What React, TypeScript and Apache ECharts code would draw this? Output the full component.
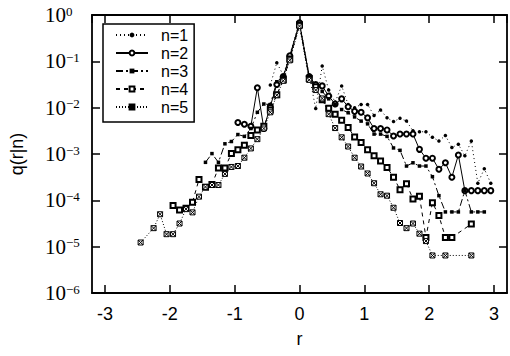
import React, { useEffect, useRef } from 'react';
import * as echarts from 'echarts';

// n=1
const r1 = [-0.45, -0.35, -0.25, -0.15, 0, 0.15, 0.25, 0.35, 0.45, 0.55, 0.65, 0.75, 0.85, 0.95, 1.05, 1.15, 1.25, 1.35, 1.45, 1.55, 1.65, 1.75, 1.85, 1.95, 2.05, 2.15, 2.25, 2.35, 2.45, 2.55, 2.65, 2.75, 2.85, 2.95];
const q1 = [0.0309, 0.0933, 0.0501, 0.138, 0.724, 0.0501, 0.00955, 0.0794, 0.024, 0.0132, 0.0295, 0.0117, 0.01, 0.0117, 0.0117, 0.00676, 0.00891, 0.00603, 0.00501, 0.00589, 0.00513, 0.00316, 0.00302, 0.00302, 0.00229, 0.00191, 0.00251, 0.00138, 0.00162, 0.000912, 0.00191, 0.000234, 0.000479, 0.000234];

// n=2
const r2 = [-0.95, -0.85, -0.75, -0.65, -0.55, -0.45, -0.35, -0.25, -0.15, 0, 0.15, 0.25, 0.35, 0.45, 0.55, 0.65, 0.75, 0.85, 0.95, 1.05, 1.15, 1.25, 1.35, 1.45, 1.55, 1.65, 1.75, 1.85, 1.95, 2.05, 2.15, 2.25, 2.35, 2.45, 2.55, 2.65, 2.75, 2.85, 2.95];
const q2 = [0.00479, 0.00437, 0.00398, 0.0269, 0.00355, 0.0107, 0.0316, 0.0468, 0.132, 0.676, 0.0468, 0.0316, 0.0295, 0.0178, 0.012, 0.0155, 0.0105, 0.00832, 0.00794, 0.00603, 0.00355, 0.00355, 0.00331, 0.00245, 0.00269, 0.00269, 0.00269, 0.00126, 0.000813, 0.000813, 0.000468, 0.000646, 0.000316, 0.000955, 0.000162, 0.000162, 0.000162, 0.000162, 0.000162];

// n=3
const r3 = [-1.45, -1.35, -1.25, -1.15, -1.05, -0.95, -0.85, -0.75, -0.65, -0.55, -0.45, -0.35, -0.25, -0.15, 0, 0.15, 0.25, 0.35, 0.45, 0.55, 0.65, 0.75, 0.85, 0.95, 1.05, 1.15, 1.25, 1.35, 1.45, 1.55, 1.65, 1.75, 1.85, 1.95, 2.05, 2.15, 2.25, 2.35, 2.45, 2.55, 2.65, 2.75, 2.85];
const q3 = [0.000661, 0.00102, 0.000661, 0.00166, 0.00186, 0.00263, 0.0024, 0.00355, 0.00794, 0.012, 0.0117, 0.0363, 0.0479, 0.12, 0.646, 0.0447, 0.0263, 0.0224, 0.0155, 0.0117, 0.00912, 0.00776, 0.00631, 0.00513, 0.00447, 0.00269, 0.00269, 0.0024, 0.00135, 0.0012, 0.00055, 0.000646, 0.00055, 0.00055, 0.000324, 0.000126, 0.0000562, 0.0000562, 0.0000562, 0.000162, 0.0000562, 0.0000562, 0.0000562];

// n=4
const r4 = [-1.95, -1.85, -1.75, -1.65, -1.55, -1.45, -1.35, -1.25, -1.15, -1.05, -0.95, -0.85, -0.75, -0.65, -0.55, -0.45, -0.35, -0.25, -0.15, 0, 0.15, 0.25, 0.35, 0.45, 0.55, 0.65, 0.75, 0.85, 0.95, 1.05, 1.15, 1.25, 1.35, 1.45, 1.55, 1.65, 1.75, 1.85, 1.95, 2.05, 2.15, 2.25, 2.35, 2.65];
const q4 = [0.0000776, 0.0000617, 0.0000676, 0.0000912, 0.000282, 0.000191, 0.000219, 0.000501, 0.000501, 0.00102, 0.00123, 0.00155, 0.00251, 0.00331, 0.00398, 0.00891, 0.0191, 0.0398, 0.112, 0.617, 0.0427, 0.0282, 0.0148, 0.00977, 0.00724, 0.00537, 0.00372, 0.00234, 0.00178, 0.00123, 0.000912, 0.000708, 0.000513, 0.000316, 0.00017, 0.000229, 0.000107, 0.000123, 0.0000158, 0.0000891, 0.0000468, 0.0000158, 0.0000158, 0.0000309];

// n=5
const r5 = [-2.45, -2.25, -2.15, -2.05, -1.95, -1.85, -1.75, -1.65, -1.55, -1.45, -1.35, -1.25, -1.15, -1.05, -0.95, -0.85, -0.75, -0.65, -0.55, -0.45, -0.35, -0.25, -0.15, 0, 0.15, 0.25, 0.35, 0.45, 0.55, 0.65, 0.75, 0.85, 0.95, 1.05, 1.15, 1.25, 1.35, 1.45, 1.55, 1.65, 1.75, 1.85, 1.95, 2.05, 2.25, 2.65];
const q5 = [0.0000123, 0.0000251, 0.0000501, 0.0000186, 0.0000186, 0.0000316, 0.0000646, 0.000055, 0.00012, 0.000195, 0.000214, 0.000214, 0.000372, 0.000525, 0.00055, 0.000832, 0.00132, 0.00209, 0.00355, 0.00794, 0.0186, 0.038, 0.105, 0.575, 0.0398, 0.024, 0.0158, 0.00724, 0.00363, 0.00229, 0.00145, 0.000832, 0.000537, 0.00038, 0.000234, 0.000135, 0.000126, 0.0000692, 0.0000324, 0.0000251, 0.0000316, 0.0000191, 0.0000132, 0.00000646, 0.00000646, 0.00000646];

const seriesNames = ['n=1', 'n=2', 'n=3', 'n=4', 'n=5'];

const BOXED_X = 'path://M0,0H10V10H0ZM0,0L10,10M10,0L0,10';

export default function App() {
  const ref = useRef<HTMLDivElement>(null);
  useEffect(() => {
    document.body.style.margin = '0';
    const chart = echarts.init(ref.current!, null, { renderer: 'svg' });
    const pairs = (r: number[], q: number[]) => r.map((x, i) => [x, q[i]]);
    const black = '#000';
    const axisCommon = {
      axisLine: { show: true, onZero: false, lineStyle: { color: black, width: 1.8 } },
      axisTick: { show: true, inside: true, length: 8, lineStyle: { color: black, width: 1.5 } },
      splitLine: { show: false },
    };
    const supFormatter = (v: number) => {
      const e = Math.round(Math.log10(v));
      const s = e === 0 ? '0' : '\u2212' + String(-e);
      return '{b|10}{s|' + s + '}';
    };
    chart.setOption({
      animation: false,
      backgroundColor: '#fff',
      grid: { left: 91, right: 3, top: 15, bottom: 63, containLabel: false },
      legend: {
        data: seriesNames,
        orient: 'vertical',
        left: 103,
        top: 24,
        itemWidth: 32,
        itemHeight: 6,
        itemGap: 2,
        padding: [3, 6, 7, 12],
        borderColor: black,
        borderWidth: 1.5,
        backgroundColor: '#fff',
        textStyle: { fontSize: 16, fontFamily: 'Liberation Sans', color: black, lineHeight: 16, padding: [0, 0, 0, 8] },
      },
      xAxis: [
        {
          type: 'value', min: -3.2, max: 3.2, splitNumber: 6, position: 'bottom',
          name: 'r', nameLocation: 'middle', nameGap: 37,
          nameTextStyle: { fontSize: 18, fontFamily: 'Liberation Sans', color: black },
          axisLabel: { show: true, showMinLabel: false, showMaxLabel: false, margin: 12, fontSize: 18, fontFamily: 'Liberation Sans', color: black },
          ...axisCommon,
        },
        {
          type: 'value', min: -3.2, max: 3.2, splitNumber: 6, position: 'top',
          axisLabel: { show: false },
          ...axisCommon,
        },
      ],
      yAxis: [
        {
          type: 'log', logBase: 10, min: 1e-6, max: 1, splitNumber: 6, position: 'left',
          name: 'q(r|n)', nameLocation: 'middle', nameGap: 66,
          nameTextStyle: { fontSize: 18, fontFamily: 'Liberation Sans', color: black },
          axisLabel: {
            show: true, margin: 47, align: 'left', fontFamily: 'Liberation Serif', fontSize: 21, color: black, formatter: supFormatter,
            rich: {
              b: { fontSize: 21, fontFamily: 'Liberation Serif', color: black, lineHeight: 21 },
              s: { fontSize: 13, fontFamily: 'Liberation Serif', color: black, lineHeight: 13, verticalAlign: 'top' },
            },
          },
          minorTick: { show: false },
          ...axisCommon,
        },
        {
          type: 'log', logBase: 10, min: 1e-6, max: 1, splitNumber: 6, position: 'right',
          axisLabel: { show: false },
          minorTick: { show: false },
          ...axisCommon,
        },
      ],
      series: [
        {
          name: 'n=1', type: 'line', data: pairs(r1, q1), symbol: 'circle', symbolSize: 3.5,
          itemStyle: { color: black }, lineStyle: { color: black, width: 1, type: [1, 3] },
        },
        {
          name: 'n=2', type: 'line', data: pairs(r2, q2), symbol: 'emptyCircle', symbolSize: 5,
          itemStyle: { color: black, borderWidth: 0.8 }, lineStyle: { color: black, width: 1, type: 'solid' },
        },
        {
          name: 'n=3', type: 'line', data: pairs(r3, q3), symbol: 'rect', symbolSize: 3.5,
          itemStyle: { color: black }, lineStyle: { color: black, width: 1, type: [7, 3, 2, 3] },
        },
        {
          name: 'n=4', type: 'line', data: pairs(r4, q4), symbol: 'emptyRect', symbolSize: 5,
          itemStyle: { color: black, borderWidth: 0.8 }, lineStyle: { color: black, width: 1, type: [4, 4] },
        },
        {
          name: 'n=5', type: 'line', data: pairs(r5, q5), symbol: BOXED_X, symbolSize: 5,
          itemStyle: { color: '#fff', borderColor: black, borderWidth: 1 }, lineStyle: { color: black, width: 1, type: [1, 2] },
        },
      ],
    });
    return () => chart.dispose();
  }, []);
  return <div ref={ref} style={{ width: 510, height: 356, position: 'absolute', left: 0, top: 0 }} />;
}
